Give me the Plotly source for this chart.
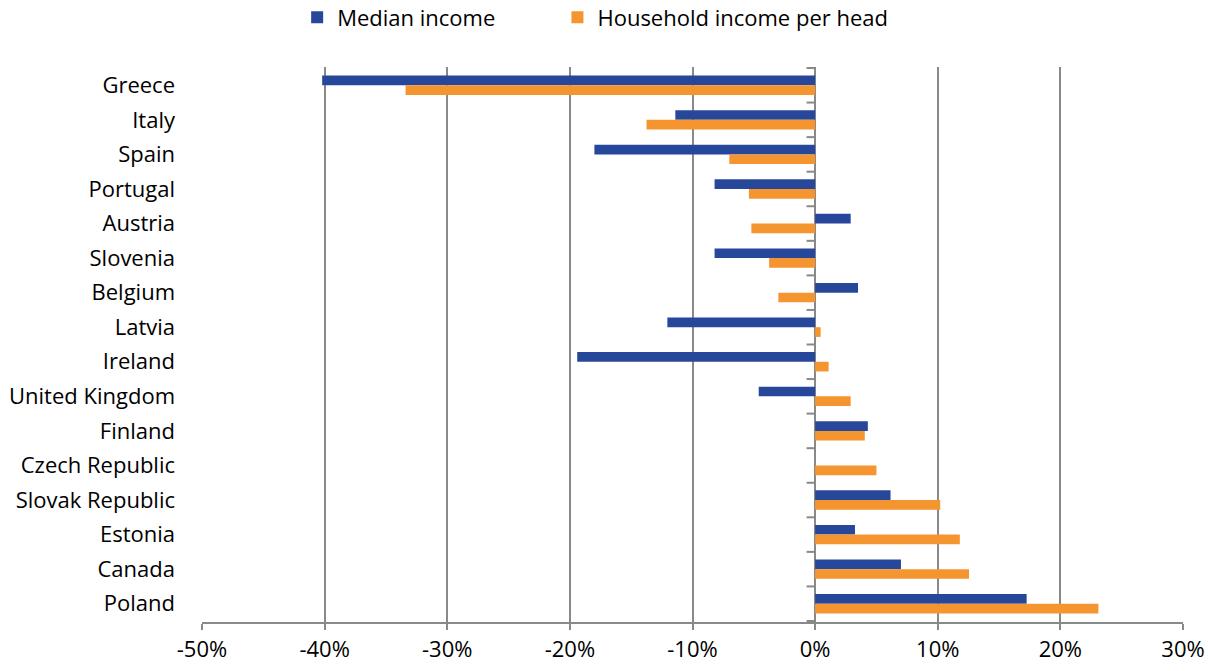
import plotly.graph_objects as go

countries = ["Greece", "Italy", "Spain", "Portugal", "Austria", "Slovenia", "Belgium", "Latvia",
             "Ireland", "United Kingdom", "Finland", "Czech Republic", "Slovak Republic",
             "Estonia", "Canada", "Poland"]
median_income = [-40.2, -11.4, -18.0, -8.2, 2.9, -8.2, 3.5, -12.05, -19.4, -4.6, 4.3, None,
                 6.15, 3.25, 7.0, 17.25]
household_income = [-33.4, -13.75, -7.0, -5.4, -5.2, -3.75, -3.0, 0.45, 1.1, 2.9, 4.05, 5.0,
                    10.2, 11.8, 12.55, 23.1]
x_ticks = [-50, -40, -30, -20, -10, 0, 10, 20, 30]
x_tick_labels = [f"{v}%" for v in x_ticks]

BLUE = "#27479A"
ORANGE = "#F5952F"
GRID = "#898989"
FONT = "Open Sans"
PAD = "\u00a0" * 10  # extra spacing between legend entries

fig = go.Figure()
fig.add_trace(go.Bar(y=countries, x=median_income, orientation="h",
                     name="Median income" + PAD,
                     marker=dict(color=BLUE, line=dict(width=0))))
fig.add_trace(go.Bar(y=countries, x=household_income, orientation="h",
                     name="Household income per head",
                     marker=dict(color=ORANGE, line=dict(width=0))))

# small category tick marks on the zero line
shapes = []
for i in range(len(countries) + 1):
    shapes.append(dict(type="line", xref="x", yref="y", x0=-0.7, x1=0,
                       y0=i - 0.5, y1=i - 0.5, line=dict(color=GRID, width=2)))

fig.update_layout(
    width=1208, height=671,
    margin=dict(l=202, r=25, t=67, b=49),
    paper_bgcolor="white", plot_bgcolor="white",
    barmode="group", bargap=0.44, bargroupgap=0,
    font=dict(family=FONT, size=22, color="#000000"),
    legend=dict(orientation="h", x=0.097, xanchor="left",
                y=0.974, yref="container", yanchor="middle",
                font=dict(size=22), traceorder="normal", itemwidth=30),
    shapes=shapes,
    xaxis=dict(range=[-50, 30], tickvals=x_ticks, ticktext=x_tick_labels,
               showgrid=True, gridcolor=GRID, gridwidth=2,
               zeroline=True, zerolinecolor=GRID, zerolinewidth=2,
               showline=True, linecolor=GRID, linewidth=2,
               ticks="outside", ticklen=6, tickcolor=GRID, tickwidth=2,
               ticklabelstandoff=1, automargin=False,
               tickfont=dict(size=22)),
    yaxis=dict(autorange="reversed", showgrid=False, zeroline=False, showline=False,
               ticks="", ticklabelstandoff=26, automargin=False, tickfont=dict(size=22)),
)

fig.write_html("out.html")
